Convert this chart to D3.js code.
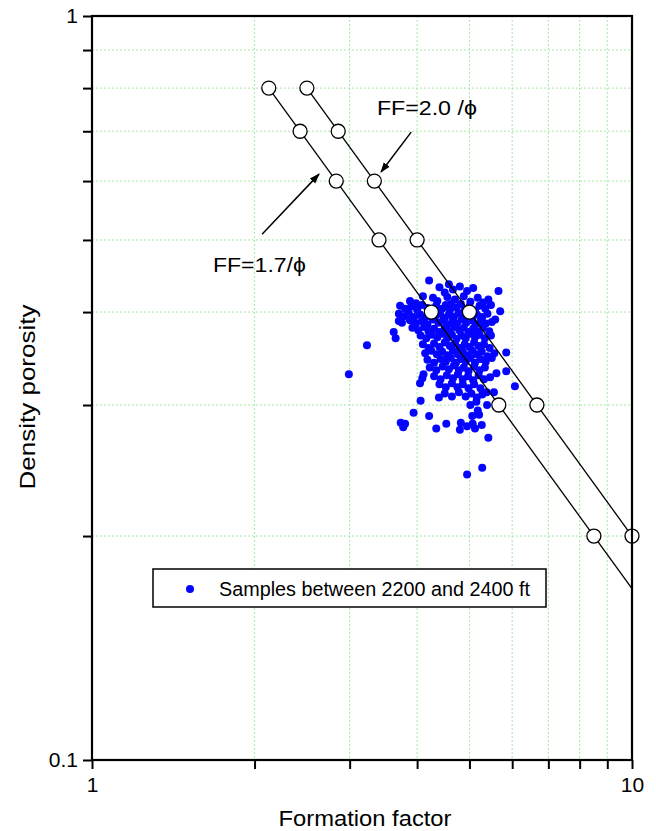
<!DOCTYPE html>
<html><head><meta charset="utf-8">
<script src="https://cdn.jsdelivr.net/npm/d3@7"></script>
<style>body{margin:0;background:#fff} text{font-family:"Liberation Sans",Arial,Helvetica,sans-serif}</style>
</head><body><svg id="c" width="656" height="831"></svg>
<script>
// ---------- data ----------
const xDomain = [1, 10];
const yDomain = [0.1, 1];
const xTickLabels = [1, 10];
const yTickLabels = [0.1, 1];
const xMinor = [2, 3, 4, 5, 6, 7, 8, 9];
const yMinor = [0.2, 0.3, 0.4, 0.5, 0.6, 0.7, 0.8, 0.9];
const lineCoeffs = [1.7, 2.0];
const markerPhi = [0.8, 0.7, 0.6, 0.5, 0.4, 0.3, 0.2];
const legendLabel = "Samples between 2200 and 2400 ft";
const xTitle = "Formation factor";
const yTitle = "Density porosity";
const annotations = [
  {text: "FF=1.7/\u03D5", ff: 1.675, phi: 0.453, from: [2.065, 0.509], to: [2.633, 0.613], len: 93},
  {text: "FF=2.0 /\u03D5", ff: 3.37, phi: 0.736, from: [3.90, 0.698], to: [3.43, 0.617], len: 100}
];
// [formation factor, density porosity]
const samples = [
  [4.21,0.441],[4.40,0.432],[4.58,0.436],[4.66,0.429],[4.80,0.433],[4.95,0.427],[5.08,0.431],[4.50,0.425],[5.66,0.427],
  [4.10,0.420],[4.28,0.418],[4.36,0.414],[4.55,0.419],[4.70,0.416],[4.88,0.420],[5.02,0.413],[5.18,0.418],[5.30,0.412],[3.88,0.414],[3.98,0.411],[4.62,0.410],[5.42,0.416],
  [3.72,0.408],[3.80,0.404],[3.90,0.407],[4.00,0.403],[4.08,0.409],[4.18,0.405],[4.26,0.402],[4.34,0.408],[4.45,0.404],[4.52,0.409],[4.60,0.402],[4.73,0.406],[4.82,0.410],[4.90,0.403],[5.00,0.407],[5.12,0.402],[5.22,0.408],[5.35,0.404],[5.48,0.409],[5.70,0.401],
  [3.70,0.398],[3.78,0.395],[3.86,0.399],[3.95,0.394],[4.05,0.397],[4.14,0.393],[4.22,0.399],[4.32,0.395],[4.41,0.398],[4.50,0.393],[4.58,0.397],[4.68,0.394],[4.77,0.399],[4.86,0.395],[4.96,0.398],[5.06,0.393],[5.16,0.397],[5.28,0.394],[5.40,0.398],[5.58,0.391],
  [3.70,0.389],[3.75,0.387],[3.88,0.390],[3.98,0.386],[4.08,0.389],[4.18,0.385],[4.28,0.391],[4.38,0.387],[4.47,0.390],[4.56,0.385],[4.65,0.389],[4.74,0.386],[4.84,0.391],[4.93,0.387],[5.03,0.390],[5.13,0.385],[5.24,0.389],[5.36,0.386],[5.50,0.388],
  [3.62,0.376],[3.92,0.381],[4.02,0.378],[4.12,0.382],[4.20,0.377],[4.30,0.380],[4.40,0.376],[4.50,0.381],[4.60,0.377],[4.70,0.382],[4.79,0.378],[4.88,0.381],[4.98,0.376],[5.08,0.380],[5.18,0.377],[5.30,0.381],[5.44,0.377],
  [3.65,0.369],[4.06,0.372],[4.16,0.369],[4.26,0.373],[4.36,0.370],[4.46,0.374],[4.55,0.369],[4.64,0.373],[4.73,0.368],[4.83,0.372],[4.92,0.369],[5.02,0.374],[5.12,0.370],[5.22,0.373],[5.34,0.369],[5.48,0.372],
  [4.10,0.362],[4.20,0.358],[4.30,0.363],[4.40,0.359],[4.50,0.364],[4.60,0.360],[4.70,0.363],[4.80,0.358],[4.90,0.362],[5.00,0.359],[5.10,0.364],[5.20,0.360],[5.32,0.362],[5.45,0.358],[5.85,0.353],[3.23,0.361],
  [4.14,0.352],[4.25,0.355],[4.35,0.351],[4.45,0.354],[4.55,0.350],[4.66,0.355],[4.76,0.351],[4.86,0.354],[4.96,0.350],[5.06,0.355],[5.16,0.351],[5.27,0.354],[5.40,0.349],[5.56,0.352],
  [4.18,0.345],[4.30,0.342],[4.42,0.346],[4.52,0.343],[4.62,0.347],[4.72,0.342],[4.82,0.346],[4.92,0.343],[5.02,0.347],[5.12,0.342],[5.24,0.346],[5.36,0.343],[5.50,0.347],
  [4.22,0.337],[4.34,0.334],[4.46,0.338],[4.58,0.335],[4.68,0.339],[4.78,0.334],[4.88,0.337],[4.98,0.333],[5.10,0.338],[5.22,0.334],[5.34,0.337],[5.61,0.331],[5.85,0.333],[2.99,0.330],
  [4.11,0.330],[4.09,0.326],[4.30,0.328],[4.42,0.325],[4.54,0.329],[4.66,0.326],[4.76,0.330],[4.86,0.325],[4.97,0.328],[5.08,0.324],[5.20,0.329],[5.32,0.325],[5.46,0.327],
  [4.05,0.321],[4.40,0.320],[4.52,0.317],[4.64,0.321],[4.75,0.317],[4.86,0.320],[4.98,0.316],[5.10,0.320],[5.24,0.316],[5.38,0.312],[5.55,0.312],[6.07,0.318],
  [4.50,0.311],[4.64,0.308],[4.78,0.312],[4.92,0.308],[5.04,0.311],[5.16,0.307],[5.28,0.310],
  [4.39,0.307],[4.06,0.304],[5.02,0.300],[5.15,0.303],[5.39,0.300],[5.18,0.295],[3.94,0.293],[4.21,0.290],[5.06,0.290],[5.21,0.291],[3.73,0.284],[3.80,0.283],[3.77,0.280],[4.34,0.279],[4.53,0.283],[4.82,0.284],[4.80,0.278],[4.95,0.281],[5.07,0.283],[5.12,0.279],[5.27,0.282],[5.42,0.271],[5.28,0.247],[4.95,0.242]
];

// ---------- layout ----------
const L = 92, R = 632, T = 16, B = 760;
const svg = d3.select("#c");
const x = d3.scaleLog().domain(xDomain).range([L, R]);
const y = d3.scaleLog().domain(yDomain).range([B, T]);

svg.append("defs").append("marker")
  .attr("id", "arr").attr("viewBox", "0 0 10 10").attr("refX", 9).attr("refY", 5)
  .attr("markerWidth", 7).attr("markerHeight", 7).attr("orient", "auto")
  .append("path").attr("d", "M0,1.5 L10,5 L0,8.5 Z").attr("fill", "#000");

// grid
const grid = svg.append("g").attr("stroke", "#a6e8a6").attr("stroke-width", 1).attr("stroke-dasharray", "2,2");
grid.selectAll(".gx").data(xMinor).join("line")
  .attr("x1", d => x(d)).attr("x2", d => x(d)).attr("y1", T).attr("y2", B);
grid.selectAll(".gy").data(yMinor).join("line")
  .attr("y1", d => y(d)).attr("y2", d => y(d)).attr("x1", L).attr("x2", R);

// clip
svg.append("clipPath").attr("id", "clip").append("rect").attr("x", L).attr("y", T).attr("width", R - L).attr("height", B - T);

// scatter
svg.append("g").selectAll("circle").data(samples).join("circle")
  .attr("cx", d => x(d[0])).attr("cy", d => y(d[1])).attr("r", 4).attr("fill", "#0505ff");

// model lines FF = a / phi
const lines = svg.append("g").attr("clip-path", "url(#clip)");
lineCoeffs.forEach(a => {
  const pts = [[a / markerPhi[0], markerPhi[0]], [xDomain[1], a / xDomain[1]]];
  lines.append("path").attr("d", d3.line().x(d => x(d[0])).y(d => y(d[1]))(pts))
    .attr("stroke", "#000").attr("stroke-width", 1.3).attr("fill", "none");
});
const markers = svg.append("g");
lineCoeffs.forEach(a => {
  markers.selectAll(null).data(markerPhi).join("circle")
    .attr("cx", p => x(a / p)).attr("cy", p => y(p)).attr("r", 7)
    .attr("fill", "#fff").attr("stroke", "#000").attr("stroke-width", 1.3);
});

// annotations
annotations.forEach(an => {
  svg.append("line").attr("x1", x(an.from[0])).attr("y1", y(an.from[1]))
    .attr("x2", x(an.to[0])).attr("y2", y(an.to[1]))
    .attr("stroke", "#000").attr("stroke-width", 1.5).attr("marker-end", "url(#arr)");
  svg.append("text").attr("x", x(an.ff)).attr("y", y(an.phi)).attr("font-size", 21)
    .attr("textLength", an.len).attr("lengthAdjust", "spacingAndGlyphs").text(an.text);
});

// axes
const yAxis = d3.axisLeft(y).tickValues([...yTickLabels, ...yMinor]).tickSize(9).tickSizeOuter(0)
  .tickFormat(d => yTickLabels.includes(d) ? String(d) : "");
const gy = svg.append("g").attr("transform", `translate(${L},0)`).call(yAxis);
const xAxis = d3.axisBottom(x).tickValues([...xTickLabels, ...xMinor]).tickSize(9).tickSizeOuter(0)
  .tickFormat(d => xTickLabels.includes(d) ? String(d) : "");
const gx = svg.append("g").attr("transform", `translate(0,${B})`).call(xAxis);
[gx, gy].forEach(g => {
  g.select(".domain").remove();
  g.selectAll(".tick line").attr("stroke", "#000").attr("stroke-width", 2);
  g.selectAll("text").attr("font-size", 21).attr("fill", "#000")
    .style("font-family", '"Liberation Sans",Arial,sans-serif');
});
gy.selectAll("text").attr("x", -14);
gx.selectAll("text").attr("y", 17);

// frame
svg.append("rect").attr("x", L).attr("y", T).attr("width", R - L).attr("height", B - T)
  .attr("fill", "none").attr("stroke", "#000").attr("stroke-width", 2.2);

// titles
svg.append("text").attr("x", 365).attr("y", 826).attr("text-anchor", "middle")
  .attr("font-size", 22).attr("textLength", 173).attr("lengthAdjust", "spacingAndGlyphs").text(xTitle);
svg.append("text").attr("transform", `translate(35,397) rotate(-90)`).attr("text-anchor", "middle")
  .attr("font-size", 22).attr("textLength", 185).attr("lengthAdjust", "spacingAndGlyphs").text(yTitle);

// legend
const lg = svg.append("g");
lg.append("rect").attr("x", 153).attr("y", 569).attr("width", 393).attr("height", 38)
  .attr("fill", "#fff").attr("stroke", "#000").attr("stroke-width", 1.5);
lg.append("circle").attr("cx", 190).attr("cy", 589).attr("r", 4).attr("fill", "#0505ff");
lg.append("text").attr("x", 219).attr("y", 596).attr("font-size", 20)
  .attr("textLength", 311).attr("lengthAdjust", "spacingAndGlyphs").text(legendLabel);
</script></body></html>
